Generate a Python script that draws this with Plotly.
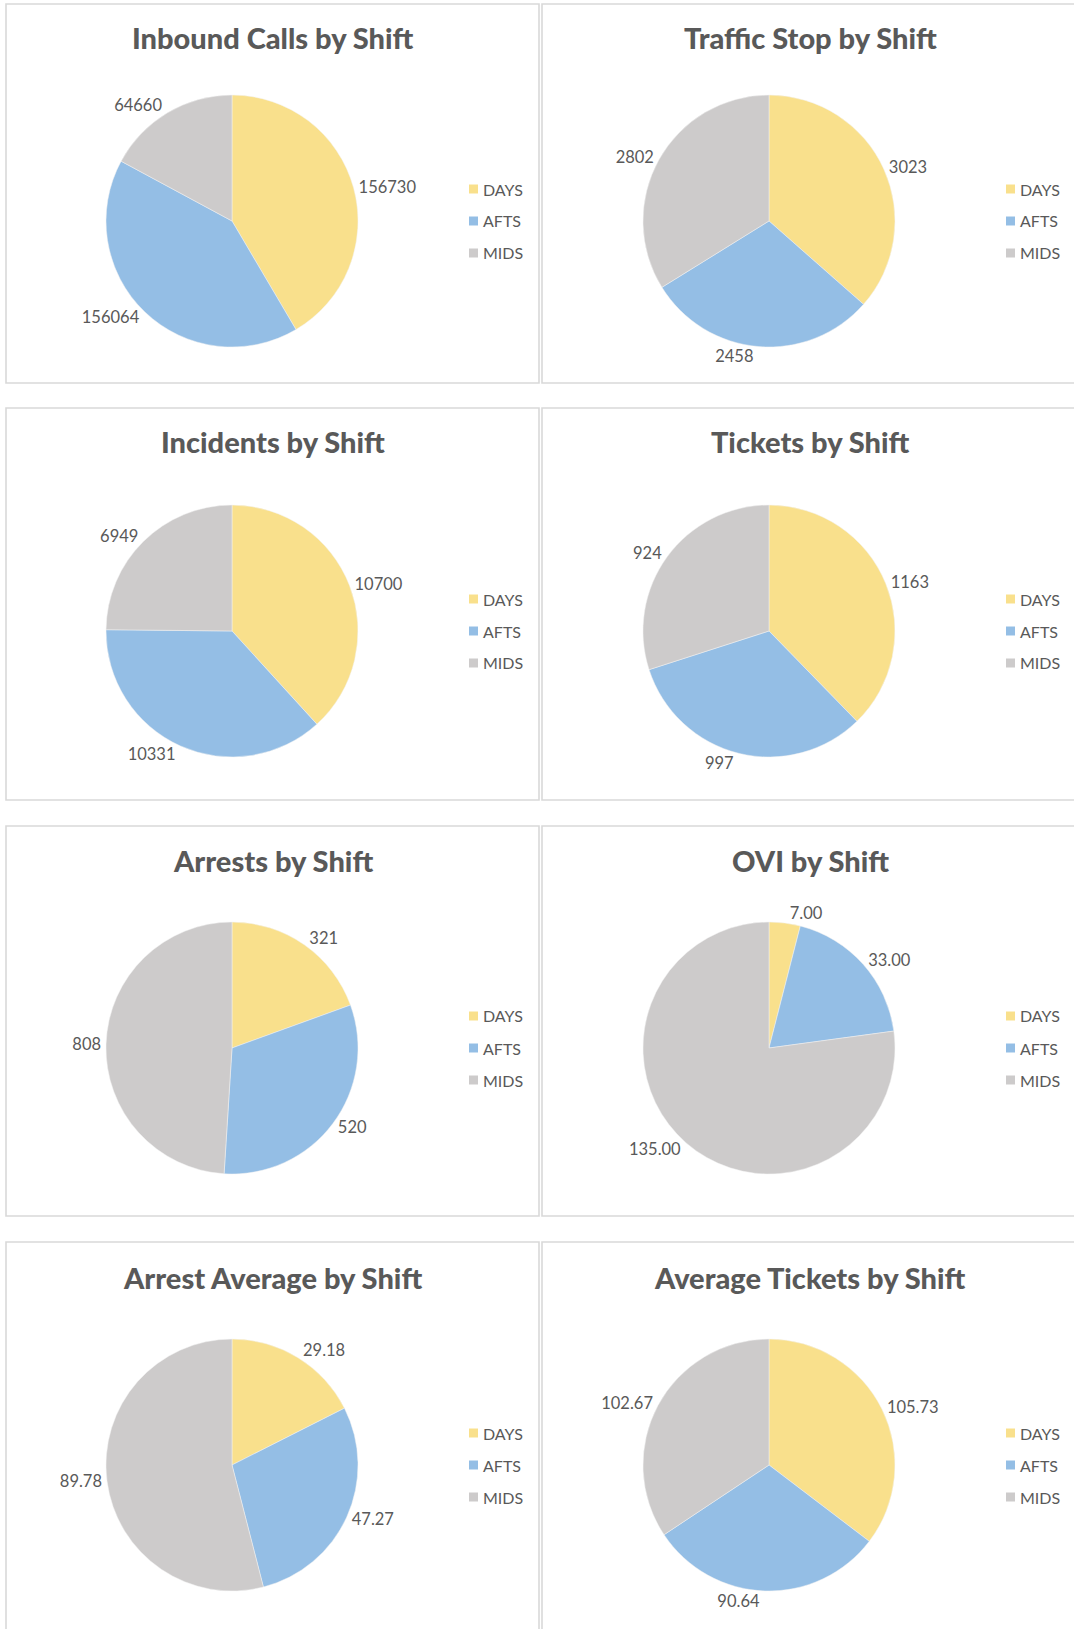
import plotly.graph_objects as go

# ---------------- data ----------------
shifts = ["DAYS", "AFTS", "MIDS"]

chart_titles = [
    "Inbound Calls by Shift", "Traffic Stop by Shift",
    "Incidents by Shift", "Tickets by Shift",
    "Arrests by Shift", "OVI by Shift",
    "Arrest Average by Shift", "Average Tickets by Shift",
]
inbound_calls = [156730, 156064, 64660]
traffic_stop = [3023, 2458, 2802]
incidents = [10700, 10331, 6949]
tickets = [1163, 997, 924]
arrests = [321, 520, 808]
ovi = [7.00, 33.00, 135.00]
arrest_average = [29.18, 47.27, 89.78]
average_tickets = [105.73, 90.64, 102.67]

series = [inbound_calls, traffic_stop, incidents, tickets,
          arrests, ovi, arrest_average, average_tickets]
formats = ["%{value:.0f}"] * 5 + ["%{value:.2f}"] * 3

# ---------------- styling / layout ----------------
W, H = 1074, 1629
colors = ["#F9E08C", "#94BEE5", "#CDCBCB"]
text_color = "#595959"
FONT = "Lato, 'Open Sans', Arial, sans-serif"

col_cx = [232, 769]          # pie centers (px)
row_cy = [221, 631, 1048, 1465]
R = 126                      # pie radius (px)
title_y = [37, 442, 860, 1277]
legend_x = [469, 1006]
legend_gap = 32

panel_cols = [(6, 539), (542, 1085)]
panel_rows = [(4, 383), (408, 800), (826, 1216), (1242, 1640)]

fig = go.Figure()
shapes = []
annotations = []

for i, (title, vals, fmt) in enumerate(zip(chart_titles, series, formats)):
    r, c = divmod(i, 2)
    cx, cy = col_cx[c], row_cy[r]
    fig.add_trace(go.Pie(
        labels=shifts,
        values=vals,
        sort=False,
        direction="clockwise",
        rotation=0,
        marker=dict(colors=colors, line=dict(color="#F2F2F2", width=0.5)),
        texttemplate=fmt,
        textposition="outside",
        textfont=dict(family=FONT, size=16.5, color=text_color),
        hoverinfo="label+value+percent",
        domain=dict(x=[(cx - R) / W, (cx + R) / W],
                    y=[(H - cy - R) / H, (H - cy + R) / H]),
        showlegend=False,
    ))
    # panel border
    x0, x1 = panel_cols[c]
    y0, y1 = panel_rows[r]
    shapes.append(dict(type="rect", xref="paper", yref="paper",
                       x0=x0 / W, x1=x1 / W, y0=1 - y1 / H, y1=1 - y0 / H,
                       line=dict(color="#D9D9D9", width=1.6), fillcolor="rgba(0,0,0,0)",
                       layer="below"))
    # title
    annotations.append(dict(text=title, xref="paper", yref="paper",
                            x=((x0 + x1) / 2 if c == 0 else 810) / W, y=1 - title_y[r] / H,
                            xanchor="center", yanchor="middle", showarrow=False,
                            font=dict(family=FONT, size=29, color=text_color, weight=900)))
    # legend
    for k, name in enumerate(shifts):
        ly = cy + (k - 1) * legend_gap
        lx = legend_x[c]
        shapes.append(dict(type="rect", xref="paper", yref="paper",
                           x0=lx / W, x1=(lx + 9) / W,
                           y0=1 - (ly + 4.5) / H, y1=1 - (ly - 4.5) / H,
                           line=dict(width=0), fillcolor=colors[k]))
        annotations.append(dict(text=name, xref="paper", yref="paper",
                                x=(lx + 12) / W, y=1 - ly / H,
                                xanchor="left", yanchor="middle", showarrow=False,
                                font=dict(family=FONT, size=16, color=text_color)))

fig.update_layout(
    width=W, height=H,
    margin=dict(l=0, r=0, t=0, b=0),
    paper_bgcolor="white",
    plot_bgcolor="white",
    showlegend=False,
    shapes=shapes,
    annotations=annotations,
)

fig.write_html("out.html", config={"displayModeBar": False},
               post_script="document.body.style.margin='0';")
